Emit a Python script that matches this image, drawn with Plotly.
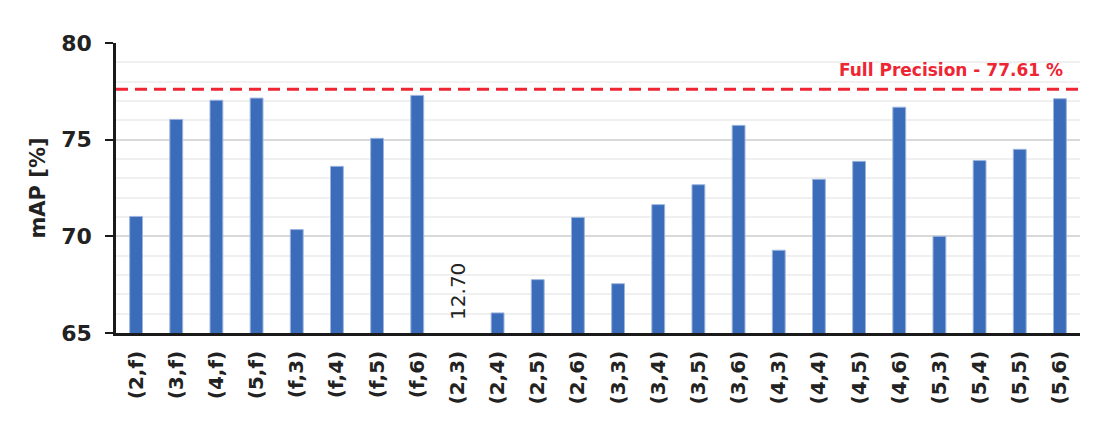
import plotly.graph_objects as go

categories = ["(2,f)", "(3,f)", "(4,f)", "(5,f)", "(f,3)", "(f,4)", "(f,5)", "(f,6)",
              "(2,3)", "(2,4)", "(2,5)", "(2,6)", "(3,3)", "(3,4)", "(3,5)", "(3,6)",
              "(4,3)", "(4,4)", "(4,5)", "(4,6)", "(5,3)", "(5,4)", "(5,5)", "(5,6)"]
map_values = [71.03, 76.05, 77.04, 77.15, 70.35, 73.62, 75.07, 77.29,
              12.70, 66.04, 67.76, 70.98, 67.55, 71.64, 72.67, 75.74,
              69.28, 72.95, 73.88, 76.68, 70.00, 73.92, 74.50, 77.12]
full_precision = 77.61
y_ticks = [65, 70, 75, 80]

BAR_COLOR = "#3A6CB9"
RED = "#EE2533"
FONT = "DejaVu Sans"

fig = go.Figure()
fig.add_trace(go.Bar(
    x=categories, y=map_values, width=0.32,
    marker=dict(color=BAR_COLOR, line=dict(color="#9DB5DE", width=1)),
    showlegend=False, hoverinfo="x+y",
))

fig.add_shape(type="line", xref="paper", yref="y", x0=0, x1=1,
              y0=full_precision, y1=full_precision,
              line=dict(color=RED, width=3, dash="12px,7px"), layer="above")

fig.add_annotation(xref="paper", yref="y", x=0.984, y=full_precision,
                   xanchor="right", yanchor="bottom", yshift=7,
                   text="<b>Full Precision - %.2f %%</b>" % full_precision,
                   showarrow=False, font=dict(family=FONT, size=17, color=RED))

# value label for the off-scale bar
fig.add_annotation(x=categories[8], y=65, yanchor="bottom", yshift=11,
                   text="%.2f" % map_values[8], textangle=-90, showarrow=False,
                   font=dict(family=FONT, size=20, color="#222222"))

fig.update_layout(
    width=1109, height=430,
    margin=dict(l=108, r=37, t=35, b=105),
    plot_bgcolor="white", paper_bgcolor="white",
    font=dict(family=FONT, color="#222222"),
)
fig.update_xaxes(
    automargin=False,
    showline=True, linecolor="#1a1a1a", linewidth=2.5,
    showgrid=False, ticks="",
    tickangle=-90, tickfont=dict(family=FONT, size=20, color="#222222", weight="bold"),
    ticklabelstandoff=7,
    range=[-0.5, len(categories) - 0.5],
)
fig.update_yaxes(
    automargin=False,
    range=[65, 80], tickvals=y_ticks, ticktext=[str(v) for v in y_ticks],
    showline=True, linecolor="#1a1a1a", linewidth=2.5,
    ticks="outside", ticklen=8, tickwidth=2, tickcolor="#1a1a1a",
    showgrid=True, gridcolor="#D9D9D9", gridwidth=1.5,
    minor=dict(dtick=1, showgrid=True, gridcolor="#F0F0F0", gridwidth=1.5, ticks=""),
    tickfont=dict(family=FONT, size=22, color="#222222", weight="bold"),
    ticklabelstandoff=9,
    title=dict(text="<b>mAP [%]</b>", font=dict(family=FONT, size=21, color="#222222"), standoff=10),
    zeroline=False,
)

fig.write_html("out.html")
